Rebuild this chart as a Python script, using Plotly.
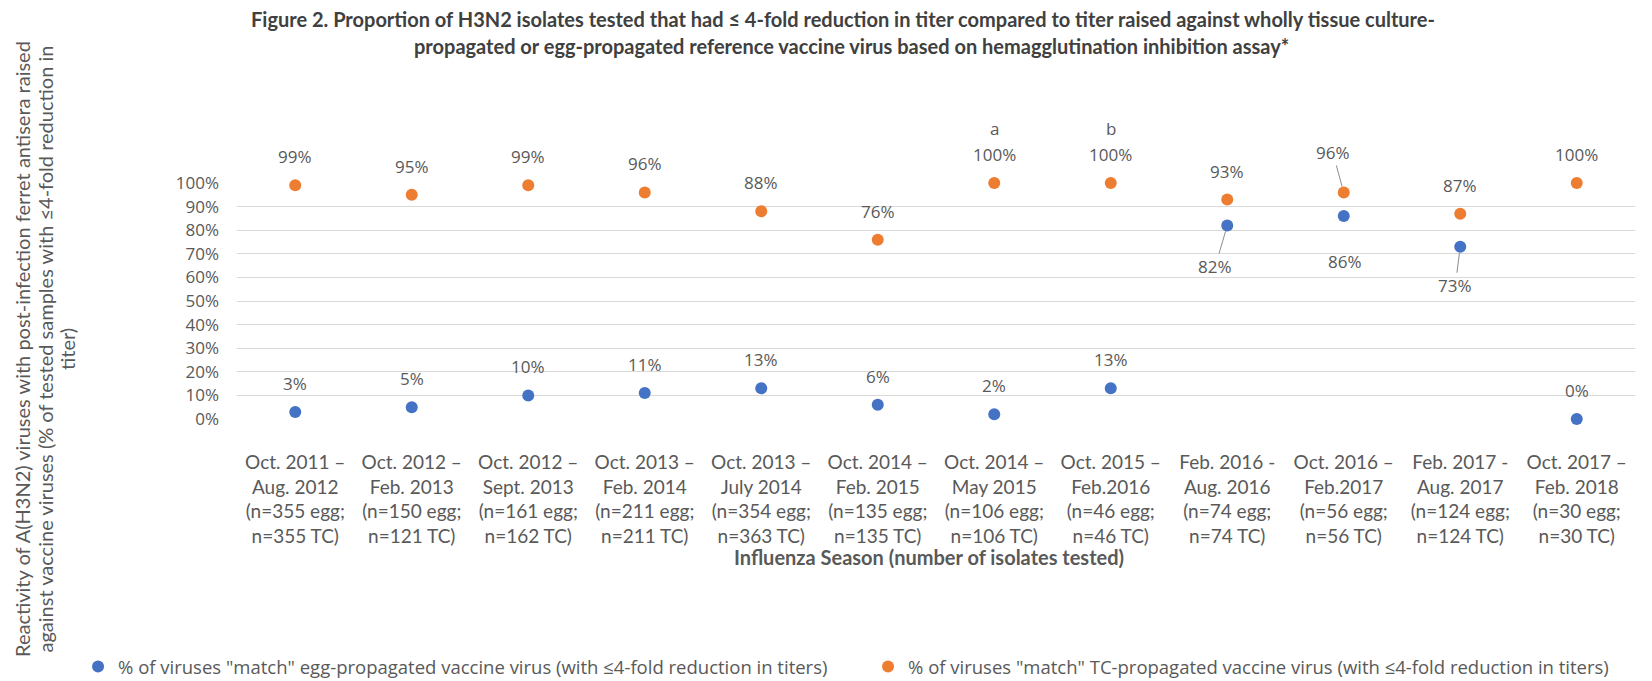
import plotly.graph_objects as go

# ---------------- data ----------------
season_start = ["Oct. 2011 –", "Oct. 2012 –", "Oct. 2012 –", "Oct. 2013 –", "Oct. 2013 –", "Oct. 2014 –",
                "Oct. 2014 –", "Oct. 2015 –", "Feb. 2016 -", "Oct. 2016 –", "Feb. 2017 -", "Oct. 2017 –"]
season_end = ["Aug. 2012", "Feb. 2013", "Sept. 2013", "Feb. 2014", "July 2014", "Feb. 2015",
              "May 2015", "Feb.2016", "Aug. 2016", "Feb.2017", "Aug. 2017", "Feb. 2018"]
n_egg = [355, 150, 161, 211, 354, 135, 106, 46, 74, 56, 124, 30]
n_tc = [355, 121, 162, 211, 363, 135, 106, 46, 74, 56, 124, 30]
pct_egg = [3, 5, 10, 11, 13, 6, 2, 13, 82, 86, 73, 0]
pct_tc = [99, 95, 99, 96, 88, 76, 100, 100, 93, 96, 87, 100]
footnote_marks = {6: "a", 7: "b"}  # category index -> letter above TC label

name_egg = '% of viruses "match" egg-propagated vaccine virus (with ≤4-fold reduction in titers)'
name_tc = '% of viruses "match" TC-propagated vaccine virus (with ≤4-fold reduction in titers)'
title_lines = ["Figure 2. Proportion of H3N2 isolates tested that had ≤ 4-fold reduction in titer compared to titer raised against wholly tissue culture-",
               "propagated or egg-propagated reference vaccine virus based on hemagglutination inhibition assay*"]
ytitle_lines = ["Reactivity of A(H3N2) viruses with post-infection ferret antisera raised",
                "against vaccine viruses (% of tested samples with ≤4-fold reduction in",
                "titer)"]
xtitle_text = "Influenza Season (number of isolates tested)"

# ---------------- styles ----------------
BLUE = "#4472C4"
ORANGE = "#ED7D31"
TXT = "#595959"
SANS = "Lato, sans-serif"
NUMF = "Open Sans, sans-serif"

# the page body adds an 8px margin, so the figure is drawn 8px smaller and all
# positions are given in figure pixels (= screen pixels - 8)
W, H = 1644, 673
PL, PR, PT, PB = 229, 1627, 175, 411   # plot area: x 229..1627, y 175 (100%)..411 (0%)
def py(pix):  # figure pixel row -> paper y
    return (PB - pix) / (PB - PT)
def px(pix):  # figure pixel column -> paper x
    return (pix - PL) / (PR - PL)

cats = [f"{s}<br>{e}<br>(n={a} egg;<br>n={b} TC)" for s, e, a, b in zip(season_start, season_end, n_egg, n_tc)]
y_egg = [v / 100 for v in pct_egg]
y_tc = [v / 100 for v in pct_tc]

fig = go.Figure()
fig.add_trace(go.Scatter(x=cats, y=y_egg, mode="markers", name=name_egg,
                         marker=dict(color=BLUE, size=12), cliponaxis=False))
fig.add_trace(go.Scatter(x=cats, y=y_tc, mode="markers", name=name_tc,
                         marker=dict(color=ORANGE, size=12), cliponaxis=False))

lab_font = dict(family=NUMF, size=17, color=TXT)
# special label placements (pixel offsets of label centre from point; leader line flag)
special_egg = {8: (-12, 41, True), 9: (1, 45, False), 10: (-5, 39, True)}
special_tc = {9: (-11, -40, True)}
STD_EGG, STD_TC = 28.5, 28.5

annotations = []
def add_label(i, yv, txt, special, std):
    if i in special:
        dx, dy, leader = special[i]
        if leader:
            annotations.append(dict(x=cats[i], y=yv, xref="x", yref="y", text=txt, font=lab_font,
                                    showarrow=True, arrowhead=0, arrowwidth=1, arrowcolor="#8C8C8C",
                                    ax=dx, ay=dy, standoff=6))
        else:
            annotations.append(dict(x=cats[i], y=yv, xref="x", yref="y", text=txt, font=lab_font,
                                    showarrow=False, xshift=dx, yshift=-dy))
    else:
        annotations.append(dict(x=cats[i], y=yv, xref="x", yref="y", text=txt, font=lab_font,
                                showarrow=False, yshift=std))

for i, v in enumerate(pct_egg):
    add_label(i, y_egg[i], f"{v}%", special_egg, STD_EGG)
for i, v in enumerate(pct_tc):
    add_label(i, y_tc[i], f"{v}%", special_tc, STD_TC)
for i, m in footnote_marks.items():
    annotations.append(dict(x=cats[i], y=y_tc[i], xref="x", yref="y", text=m, font=lab_font,
                            showarrow=False, yshift=55))

# title (two centred lines)
for line, xpix, ypix in zip(title_lines, [835, 843], [11, 38]):
    annotations.append(dict(x=px(xpix), y=py(ypix), xref="paper", yref="paper", text="<b>" + line + "</b>",
                            showarrow=False, xanchor="center", yanchor="middle",
                            font=dict(family=SANS, size=20, color="#404040")))
# rotated y-axis title (three lines)
for line, xpix in zip(ytitle_lines, [14, 36.5, 59]):
    annotations.append(dict(x=0, y=py(341), xref="paper", yref="paper", xshift=xpix - PL, text=line,
                            textangle=-90, showarrow=False, xanchor="center", yanchor="middle",
                            font=dict(family=SANS, size=20, color=TXT)))
# x-axis title
annotations.append(dict(x=px(921), y=py(549), xref="paper", yref="paper", text="<b>" + xtitle_text + "</b>",
                        showarrow=False, xanchor="center", yanchor="middle",
                        font=dict(family=SANS, size=20, color=TXT)))

fig.update_layout(
    width=W, height=H,
    paper_bgcolor="white", plot_bgcolor="white",
    margin=dict(l=PL, r=W - PR, t=PT, b=H - PB, autoexpand=False),
    showlegend=True,
    legend=dict(orientation="h", x=-0.1137, xanchor="left", y=py(640), yanchor="top",
                font=dict(family=NUMF, size=18.5, color=TXT), entrywidth=745, entrywidthmode="pixels",
                bgcolor="rgba(0,0,0,0)"),
    annotations=annotations,
)
fig.update_xaxes(type="category", range=[-0.5, 11.5], showgrid=False, zeroline=False, showline=False,
                 ticks="", tickfont=dict(family=SANS, size=19, color=TXT), ticklabelstandoff=30,
                 tickangle=0, automargin=False)
fig.update_yaxes(range=[0, 1], dtick=0.1, tickformat=".0%", showgrid=True, gridcolor="#D9D9D9",
                 gridwidth=1.3, zeroline=False, showline=False, ticks="", automargin=False,
                 tickfont=dict(family=NUMF, size=17, color=TXT), ticklabelstandoff=17)

fig.write_html("out.html")
